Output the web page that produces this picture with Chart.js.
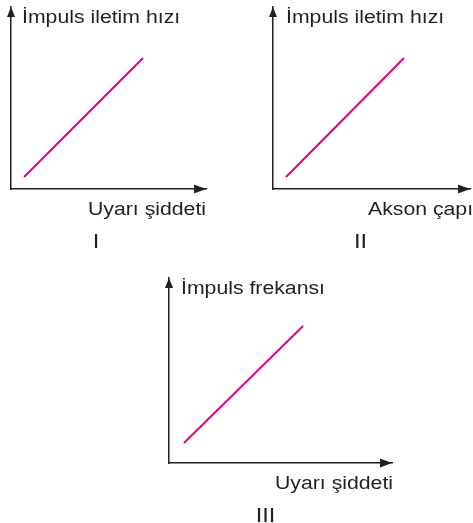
<!DOCTYPE html>
<html lang="tr">
<head>
  <meta charset="UTF-8">
  <title>İmpuls grafikleri</title>
  <script src="https://cdn.jsdelivr.net/npm/chart.js"></script>
  <style>
    body {
      margin: 0;
      background: white;
    }
    #wrap {
      position: relative;
      width: 473px;
      height: 523px;
    }
    #wrap canvas {
      position: absolute;
      left: 0;
      top: 0;
    }
  </style>
</head>
<body>

<div id="wrap">
  <canvas id="grafik1" width="473" height="523"></canvas>
  <canvas id="grafik2" width="473" height="523"></canvas>
  <canvas id="grafik3" width="473" height="523"></canvas>
</div>

<script>
  // veriler (eksen 0-10 arası)
  const grafik1X = [0.67, 6.77];
  const grafik1Y = [0.66, 7.2];
  const grafik2X = [0.66, 6.65];
  const grafik2Y = [0.66, 7.2];
  const grafik3X = [0.67, 6.01];
  const grafik3Y = [1.08, 7.41];

  const yEtiketleri = ["İmpuls iletim hızı", "İmpuls iletim hızı", "İmpuls frekansı"];
  const xEtiketleri = ["Uyarı şiddeti", "Akson çapı", "Uyarı şiddeti"];
  const numaralar = ["I", "II", "III"];

  const W = 473, H = 523;
  const koyu = "#231f20";
  const pembe = "#e6007e";
  const yaziFont = "18px 'Liberation Sans', Arial, sans-serif";
  const numaraFont = "20px 'Liberation Sans', Arial, sans-serif";

  // genişletilmiş yazı (orijinal yazı biraz geniş)
  function yaz(ctx, metin, x, y, hiza, font) {
    ctx.save();
    ctx.font = font || yaziFont;
    ctx.fillStyle = koyu;
    ctx.textBaseline = "alphabetic";
    let genislik = ctx.measureText(metin).width * 1.18;
    let sx = x;
    if (hiza === "center") sx = x - genislik / 2;
    ctx.translate(sx, y);
    ctx.scale(1.18, 1);
    ctx.fillText(metin, 0, 0);
    ctx.restore();
  }

  const okEklentisi = {
    id: "oklar",
    afterDraw(chart, args, opts) {
      const ctx = chart.ctx;
      const a = chart.chartArea;
      ctx.save();
      ctx.fillStyle = koyu;
      // y ekseni oku
      ctx.beginPath();
      ctx.moveTo(a.left, a.top);
      ctx.lineTo(a.left - 4, a.top + 10);
      ctx.lineTo(a.left + 4, a.top + 10);
      ctx.closePath();
      ctx.fill();
      // x ekseni oku
      ctx.beginPath();
      ctx.moveTo(a.right, a.bottom);
      ctx.lineTo(a.right - 12, a.bottom - 4.5);
      ctx.lineTo(a.right - 12, a.bottom + 4.5);
      ctx.closePath();
      ctx.fill();
      ctx.restore();

      yaz(ctx, opts.yEtiket, a.left + opts.yEtiketX, a.top + 16);
      yaz(ctx, opts.xEtiket, opts.xEtiketX, a.bottom + 26);
      yaz(ctx, opts.numara, opts.numaraX, a.bottom + 59, "center", numaraFont);
    }
  };

  function grafikYap(id, xs, ys, alan, etiket) {
    const noktalar = xs.map((x, i) => ({ x: x, y: ys[i] }));
    const eksen = {
      type: "linear",
      min: 0,
      max: 10,
      grid: { display: false, drawTicks: false },
      ticks: { display: false },
      border: { display: true, color: koyu, width: 1.5 }
    };
    return new Chart(document.getElementById(id), {
      type: "line",
      data: {
        datasets: [{
          data: noktalar,
          borderColor: pembe,
          borderWidth: 2,
          pointRadius: 0,
          fill: false,
          clip: false
        }]
      },
      options: {
        responsive: false,
        animation: false,
        events: [],
        layout: {
          padding: {
            left: alan.left,
            top: alan.top,
            right: W - alan.right,
            bottom: H - alan.bottom
          }
        },
        scales: {
          x: Object.assign({ position: "bottom" }, eksen),
          y: Object.assign({ position: "left" }, eksen)
        },
        plugins: {
          legend: { display: false },
          tooltip: { enabled: false },
          oklar: etiket
        }
      },
      plugins: [okEklentisi]
    });
  }

  grafikYap("grafik1", grafik1X, grafik1Y,
    { left: 11, top: 7, right: 206, bottom: 189 },
    { yEtiket: yEtiketleri[0], yEtiketX: 11, xEtiket: xEtiketleri[0], xEtiketX: 88, numara: numaralar[0], numaraX: 96 });

  grafikYap("grafik2", grafik2X, grafik2Y,
    { left: 273, top: 7, right: 470, bottom: 189 },
    { yEtiket: yEtiketleri[1], yEtiketX: 13, xEtiket: xEtiketleri[1], xEtiketX: 368, numara: numaralar[1], numaraX: 360.5 });

  grafikYap("grafik3", grafik3X, grafik3Y,
    { left: 169, top: 278, right: 392, bottom: 463 },
    { yEtiket: yEtiketleri[2], yEtiketX: 12, xEtiket: xEtiketleri[2], xEtiketX: 275, numara: numaralar[2], numaraX: 265.5 });
</script>

</body>
</html>
